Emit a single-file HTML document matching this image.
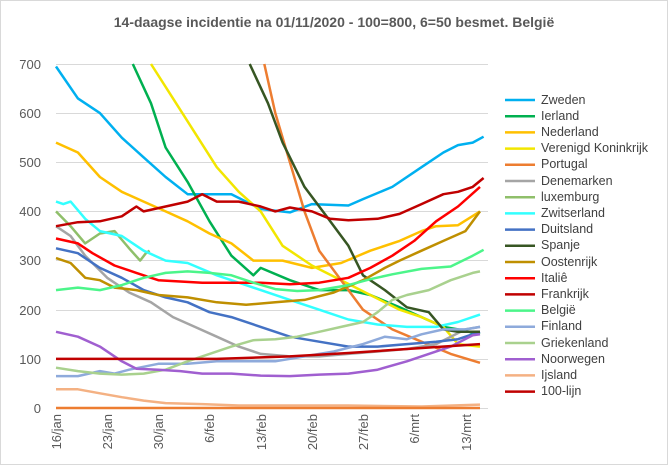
<!DOCTYPE html>
<html><head><meta charset="utf-8"><style>
html,body{margin:0;padding:0;background:#fff;}
svg{display:block;font-family:"Liberation Sans",sans-serif;}
</style></head><body>
<svg id="s" width="668" height="465" viewBox="0 0 668 465">
<rect x="0.5" y="0.5" width="667" height="464" fill="#fff" stroke="#d9d9d9"/>
<text x="334" y="27" text-anchor="middle" font-size="14" font-weight="bold" fill="#595959">14-daagse incidentie na 01/11/2020 - 100=800, 6=50 besmet. België</text>
<g stroke="#d9d9d9" stroke-width="1">
<line x1="56" x2="488" y1="64.5" y2="64.5"/><line x1="56" x2="488" y1="113.5" y2="113.5"/>
<line x1="56" x2="488" y1="162.5" y2="162.5"/><line x1="56" x2="488" y1="211.5" y2="211.5"/>
<line x1="56" x2="488" y1="260.5" y2="260.5"/><line x1="56" x2="488" y1="310.5" y2="310.5"/>
<line x1="56" x2="488" y1="359.5" y2="359.5"/><line x1="56" x2="488" y1="408.5" y2="408.5"/>
</g>
<g font-size="13" fill="#595959" text-anchor="end">
<text x="41" y="69">700</text><text x="41" y="118">600</text><text x="41" y="167">500</text>
<text x="41" y="216">400</text><text x="41" y="265">300</text><text x="41" y="315">200</text>
<text x="41" y="364">100</text><text x="41" y="413">0</text>
</g>
<g font-size="13" fill="#595959" text-anchor="end">
<text transform="translate(61,414) rotate(-90)">16/jan</text>
<text transform="translate(112,414) rotate(-90)">23/jan</text>
<text transform="translate(163,414) rotate(-90)">30/jan</text>
<text transform="translate(214,414) rotate(-90)">6/feb</text>
<text transform="translate(266,414) rotate(-90)">13/feb</text>
<text transform="translate(317,414) rotate(-90)">20/feb</text>
<text transform="translate(368,414) rotate(-90)">27/feb</text>
<text transform="translate(419,414) rotate(-90)">6/mrt</text>
<text transform="translate(471,414) rotate(-90)">13/mrt</text>
</g>
<g id="lines" fill="none" stroke-width="2.5" stroke-linejoin="round"></g>
<g font-size="12.5" fill="#404040">
<text x="541" y="104">Zweden</text><text x="541" y="120">Ierland</text><text x="541" y="136">Nederland</text>
<text x="541" y="152">Verenigd Koninkrijk</text><text x="541" y="168">Portugal</text><text x="541" y="185">Denemarken</text>
<text x="541" y="201">luxemburg</text><text x="541" y="217">Zwitserland</text><text x="541" y="233">Duitsland</text>
<text x="541" y="249">Spanje</text><text x="541" y="266">Oostenrijk</text><text x="541" y="282">Italiê</text>
<text x="541" y="298">Frankrijk</text><text x="541" y="314">België</text><text x="541" y="330">Finland</text>
<text x="541" y="347">Griekenland</text><text x="541" y="363">Noorwegen</text><text x="541" y="379">Ijsland</text>
<text x="541" y="395">100-lijn</text>
</g>
<g id="leg" stroke-width="2.5"></g>
</svg>
<script>
var S=[
["#00b0f0",[[0,695],[3,630],[6,600],[9,550],[12,510],[15,470],[18,435],[24,435],[28,405],[32,398],[35,415],[40,412],[42,425],[46,450],[50,490],[53,520],[55,535],[57,540],[58.5,552]]],
["#00b050",[[10.5,700],[13,620],[15,530],[18,460],[21,380],[24,310],[27,270],[28,285],[32,260],[36,240],[40,240],[43,230],[47,205],[50,185],[53,165],[55,160],[58,150]]],
["#ffc000",[[0,540],[3,520],[6,470],[9,440],[12,420],[15,400],[18,380],[21,355],[24,335],[27,300],[31,300],[35,285],[39,295],[43,320],[47,340],[50,360],[52,370],[55,372],[58,400]]],
["#f2e600",[[13,700],[16,630],[19,560],[22,490],[25,440],[28,400],[31,330],[35,290],[39,260],[43,230],[47,200],[50,185],[53,165],[55,130],[58,125]]],
["#ed7d31",[[28.5,700],[30,600],[32,500],[34,400],[36,320],[39,260],[42,200],[46,160],[50,135],[54,110],[58,92]]],
["#a5a5a5",[[0,370],[2,350],[4,310],[7,265],[10,235],[13,215],[16,185],[19,165],[22,145],[25,125],[28,110],[32,105],[36,105],[40,110],[44,115],[48,120],[52,130],[56,160],[58,165]]],
["#8fbf6a",[[0,400],[2,370],[4,335],[6,355],[8,360],[10,325],[11.5,300],[12.3,315],[12.8,320]]],
["#33ffff",[[0,420],[1,415],[2,420],[4,385],[6,360],[9,350],[12,320],[15,300],[18,295],[22,270],[25,255],[28,240],[32,220],[36,200],[40,180],[44,170],[48,165],[52,165],[55,175],[58,190]]],
["#4472c4",[[0,325],[3,315],[6,285],[9,265],[12,240],[15,225],[18,215],[21,195],[24,185],[28,165],[32,145],[36,135],[40,125],[44,125],[48,130],[52,135],[55,140],[58,155]]],
["#375623",[[26.5,700],[29,620],[31,540],[34,450],[37,390],[40,330],[42,270],[45,240],[48,205],[51,195],[53,160],[55,155],[58,155]]],
["#bf8f00",[[0,305],[2,295],[4,265],[6,260],[8,245],[11,240],[14,230],[18,225],[22,215],[26,210],[30,215],[34,220],[38,235],[42,260],[45,285],[47,300],[50,320],[53,340],[56,360],[58,400]]],
["#ff0000",[[0,345],[3,335],[5,315],[8,290],[11,275],[14,260],[20,255],[28,255],[32,252],[36,255],[40,265],[43,285],[46,310],[49,340],[52,380],[55,410],[58,450]]],
["#c00000",[[0,370],[3,378],[6,380],[9,390],[11,410],[12,400],[15,410],[18,420],[20,435],[22,420],[25,420],[28,410],[30,400],[32,408],[35,400],[37.5,385],[40,382],[44,385],[47,395],[50,415],[53,435],[55,440],[57,450],[58.5,468]]],
["#4cf58a",[[0,240],[3,245],[6,240],[9,250],[12,265],[15,275],[18,278],[21,275],[24,270],[27,255],[30,242],[33,238],[36,240],[40,250],[43,262],[46,272],[50,283],[54,288],[57,310],[58.5,322]]],
["#8eaadb",[[0,65],[3,65],[6,75],[8,70],[10,78],[14,90],[18,90],[22,95],[26,95],[30,95],[34,105],[38,115],[42,130],[45,145],[48,140],[50,150],[53,160],[56,160],[58,165]]],
["#a9d18e",[[0,82],[3,75],[6,70],[9,68],[12,70],[15,78],[18,95],[21,110],[24,125],[27,138],[30,140],[33,145],[36,155],[39,165],[42,175],[44,195],[46,220],[48,230],[51,240],[54,260],[57,275],[58,278]]],
["#a05fd0",[[0,155],[3,145],[6,125],[9,95],[11,80],[14,78],[17,75],[20,70],[24,70],[28,66],[32,65],[36,68],[40,70],[44,78],[48,95],[51,110],[54,125],[57,148],[58,150]]],
["#f4b183",[[0,38],[3,38],[6,30],[9,22],[12,15],[15,10],[20,8],[25,5],[30,5],[40,5],[50,3],[58,7]]],
["#ed7d31",[[0,0],[58,0]]],
["#c00000",[[0,100],[22,100],[32,105],[40,112],[48,120],[58,130]]]
];
var g=document.getElementById('lines'),ns="http://www.w3.org/2000/svg";
S.forEach(function(s){var p=document.createElementNS(ns,'polyline');
p.setAttribute('points',s[1].map(function(q){return (56+7.31*q[0]).toFixed(1)+','+(408-q[1]*344/700).toFixed(1)}).join(' '));
p.setAttribute('stroke',s[0]);g.appendChild(p);});
var L=["#00b0f0","#00b050","#ffc000","#f2e600","#ed7d31","#a5a5a5","#8fbf6a","#33ffff","#4472c4","#375623","#bf8f00","#ff0000","#c00000","#4cf58a","#8eaadb","#a9d18e","#a05fd0","#f4b183","#c00000"];
var lg=document.getElementById('leg');
L.forEach(function(c,i){var y=100+i*16.2;var l=document.createElementNS(ns,'line');
l.setAttribute('x1',505);l.setAttribute('x2',535);l.setAttribute('y1',y);l.setAttribute('y2',y);l.setAttribute('stroke',c);lg.appendChild(l);});
</script>
</body></html>
